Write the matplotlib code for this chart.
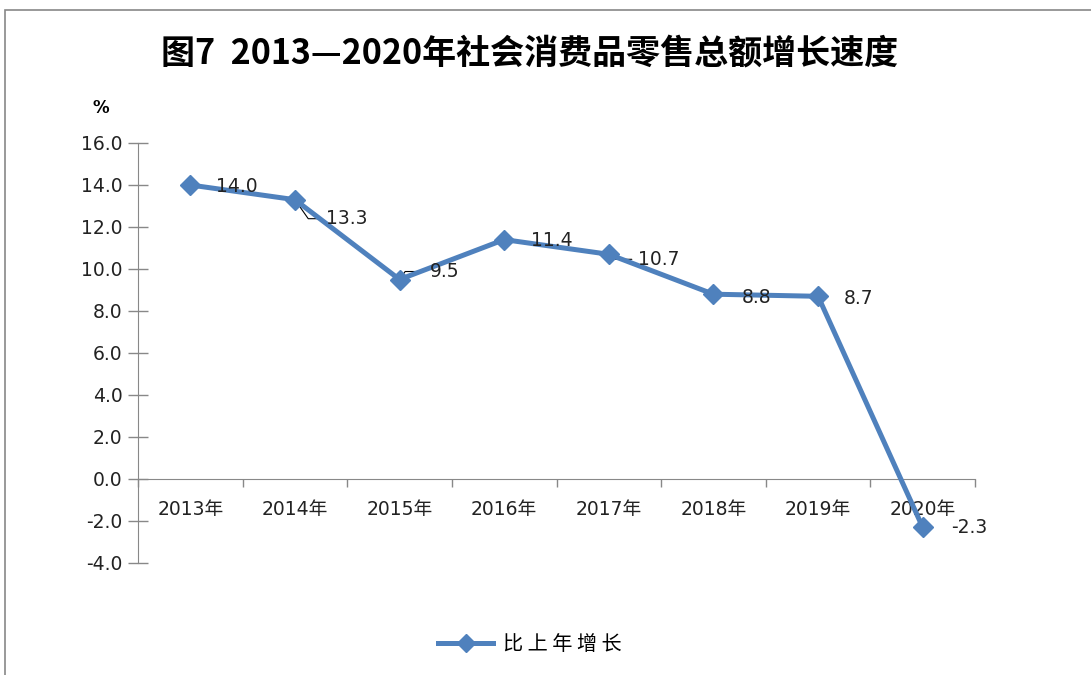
import matplotlib
matplotlib.use("Agg")
import matplotlib.pyplot as plt
from matplotlib.patches import Rectangle

plt.rcParams['font.family'] = ['DejaVu Sans', 'Noto Sans CJK SC']

years = ["2013年", "2014年", "2015年", "2016年", "2017年", "2018年", "2019年", "2020年"]
growth = [14.0, 13.3, 9.5, 11.4, 10.7, 8.8, 8.7, -2.3]
labels = ["14.0", "13.3", "9.5", "11.4", "10.7", "8.8", "8.7", "-2.3"]
yticks = [-4.0, -2.0, 0.0, 2.0, 4.0, 6.0, 8.0, 10.0, 12.0, 14.0, 16.0]
title = "图7  2013—2020年社会消费品零售总额增长速度"
series_name = "比 上 年 增 长"

# label offsets in pixels (dx, dy downward)
label_off = [(26, 1), (31, 19), (30, -8), (27, 1), (29, 5), (28, 3), (26, 2), (28, 0)]
leader = [False, True, True, False, True, False, False, False]

W, H = 1091, 675
fig = plt.figure(figsize=(W / 100, H / 100), dpi=100)
ax = fig.add_axes([138 / W, 1 - 563 / H, (975 - 138) / W, (563 - 143) / H])

color = "#4F81BD"
xs = [i + 0.5 for i in range(len(years))]
line, = ax.plot(xs, growth, color=color, lw=3.6, marker="D", markersize=10.5,
                markeredgecolor=color, markerfacecolor=color, label=series_name, zorder=3)

for s in ["top", "right"]:
    ax.spines[s].set_visible(False)
ax.spines["bottom"].set_position(("data", 0))
ax.spines["bottom"].set_color("#888888")
ax.spines["left"].set_color("#888888")

ax.set_xlim(0, len(years))
ax.set_ylim(-4, 16)
ax.set_yticks(yticks)
ax.set_yticklabels([f"{v:.1f}" for v in yticks])
ax.tick_params(axis="y", length=14, width=1, color="#888888", pad=4, direction="inout",
               labelsize=13.5, labelcolor="#222222")

ax.set_xticks(range(len(years) + 1))
ax.set_xticklabels([])
ax.set_xticks(xs, minor=True)
ax.set_xticklabels(years, minor=True)
ax.tick_params(axis="x", which="major", length=6, width=1, color="#888888", direction="out")
ax.tick_params(axis="x", which="minor", length=0, pad=15, labelsize=13.5, labelcolor="#222222")

px = 0.72  # pixels to points
for i, (x, y) in enumerate(zip(xs, growth)):
    dx, dy = label_off[i]
    ax.annotate(labels[i], xy=(x, y), xytext=(dx * px, -dy * px), textcoords="offset points",
                ha="left", va="center", fontsize=13.5, color="#222222", zorder=4)

# leader lines
for i, (x, y) in enumerate(zip(xs, growth)):
    if not leader[i]:
        continue
    dx, dy = label_off[i]
    angle_b = -55 if dy > 0 else 55
    ax.annotate("", xy=(x, y), xycoords="data",
                xytext=((dx - 6) * px, -dy * px), textcoords="offset points",
                arrowprops=dict(arrowstyle="-", color="black", lw=0.8,
                                shrinkA=0, shrinkB=3,
                                connectionstyle=f"angle,angleA=180,angleB={angle_b},rad=0"),
                zorder=2)

fig.text(101 / W, 1 - 108 / H, "%", fontsize=12, fontweight="bold", ha="center", va="center")
fig.text(530 / W, 1 - 53 / H, title, fontsize=24.5, fontweight="bold", ha="center", va="center",
         family=["Noto Sans CJK SC", "DejaVu Sans"])

fig.legend(handles=[line], loc="center", bbox_to_anchor=(530 / W, 1 - 645 / H),
           frameon=False, prop={"size": 14.5, "family": ["Noto Sans CJK SC", "DejaVu Sans"]},
           handlelength=2.7, markerscale=0.9, handletextpad=0.5)

fig.patches.append(Rectangle((5 / W, -0.05), 1.1, 1 - 10 / H + 0.05, transform=fig.transFigure,
                             fill=False, edgecolor="#888888", lw=1.2))

fig.savefig("out.png", dpi=100)
